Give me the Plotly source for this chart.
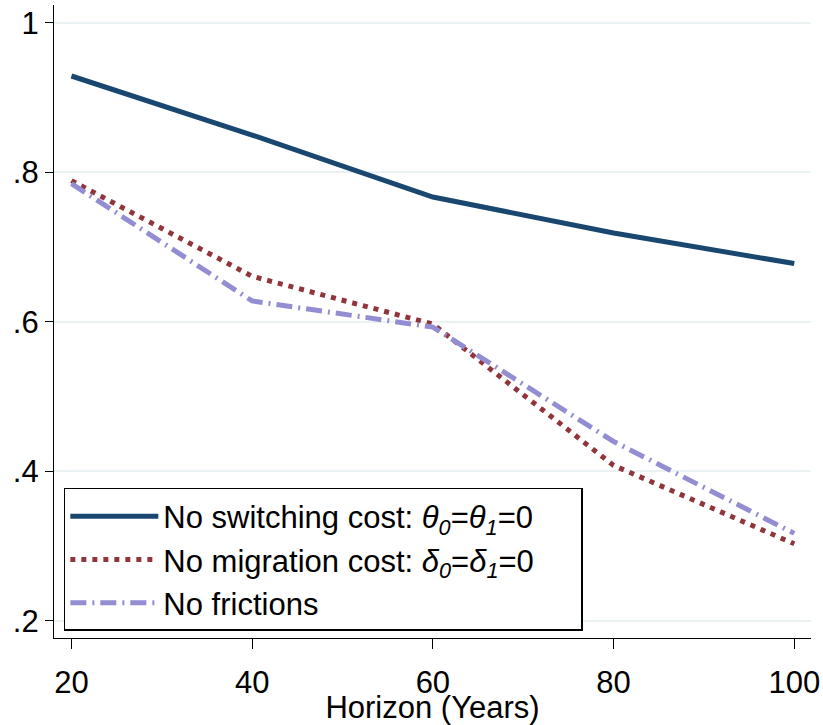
import plotly.graph_objects as go

horizon = [20, 40, 60, 80, 100]
no_switching = [0.929, 0.850, 0.767, 0.719, 0.678]
no_migration = [0.789, 0.661, 0.597, 0.408, 0.303]
no_frictions = [0.785, 0.628, 0.593, 0.440, 0.317]

y_ticks = [0.2, 0.4, 0.6, 0.8, 1.0]
y_tick_labels = [".2", ".4", ".6", ".8", "1"]
x_ticks = [20, 40, 60, 80, 100]

pad = "&nbsp;" * 5
names = [
    "No switching cost: <i>θ<sub>0</sub></i>=<i>θ<sub>1</sub></i>=0" + pad,
    "No migration cost: <i>δ<sub>0</sub></i>=<i>δ<sub>1</sub></i>=0",
    "No frictions",
]

fig = go.Figure()
fig.add_trace(go.Scatter(x=horizon, y=no_switching, mode="lines", name=names[0],
                         line=dict(color="#1a476f", width=5)))
fig.add_trace(go.Scatter(x=horizon, y=no_migration, mode="lines", name=names[1],
                         line=dict(color="#90353b", width=5, dash="5px,6px")))
fig.add_trace(go.Scatter(x=horizon, y=no_frictions, mode="lines", name=names[2],
                         line=dict(color="#938dd2", width=5, dash="16px,6px,2px,6px")))

font = "Liberation Sans, Arial, Helvetica, sans-serif"
fig.update_layout(
    width=823, height=725,
    margin=dict(l=54, r=12, t=5, b=87),
    paper_bgcolor="white", plot_bgcolor="white",
    font=dict(family=font, size=31, color="black"),
    showlegend=True,
    legend=dict(
        x=0.013, y=0.237, xanchor="left", yanchor="top",
        bordercolor="black", borderwidth=1.5, bgcolor="white",
        font=dict(size=31, family=font, color="black"),
        itemwidth=88, tracegroupgap=0,
    ),
    xaxis=dict(
        range=[18.07, 101.85], tickvals=x_ticks,
        showgrid=False, zeroline=False, automargin=False,
        showline=True, linecolor="black", linewidth=1.3,
        ticks="outside", ticklen=10, tickwidth=1.3, tickcolor="black",
        ticklabelstandoff=7,
        title=dict(text="Horizon (Years)", font=dict(size=31), standoff=0),
        tickfont=dict(size=31),
    ),
    yaxis=dict(
        range=[0.177, 1.024], tickvals=y_ticks, ticktext=y_tick_labels,
        showgrid=True, gridcolor="#eaf2f3", gridwidth=1.5, zeroline=False,
        automargin=False,
        showline=True, linecolor="black", linewidth=1.3,
        ticks="outside", ticklen=8, tickwidth=1.3, tickcolor="black",
        tickfont=dict(size=31),
    ),
)

fig.write_html(
    "out.html",
    config={"displayModeBar": False},
    post_script="document.body.style.margin='0';document.body.style.overflow='hidden';",
)
